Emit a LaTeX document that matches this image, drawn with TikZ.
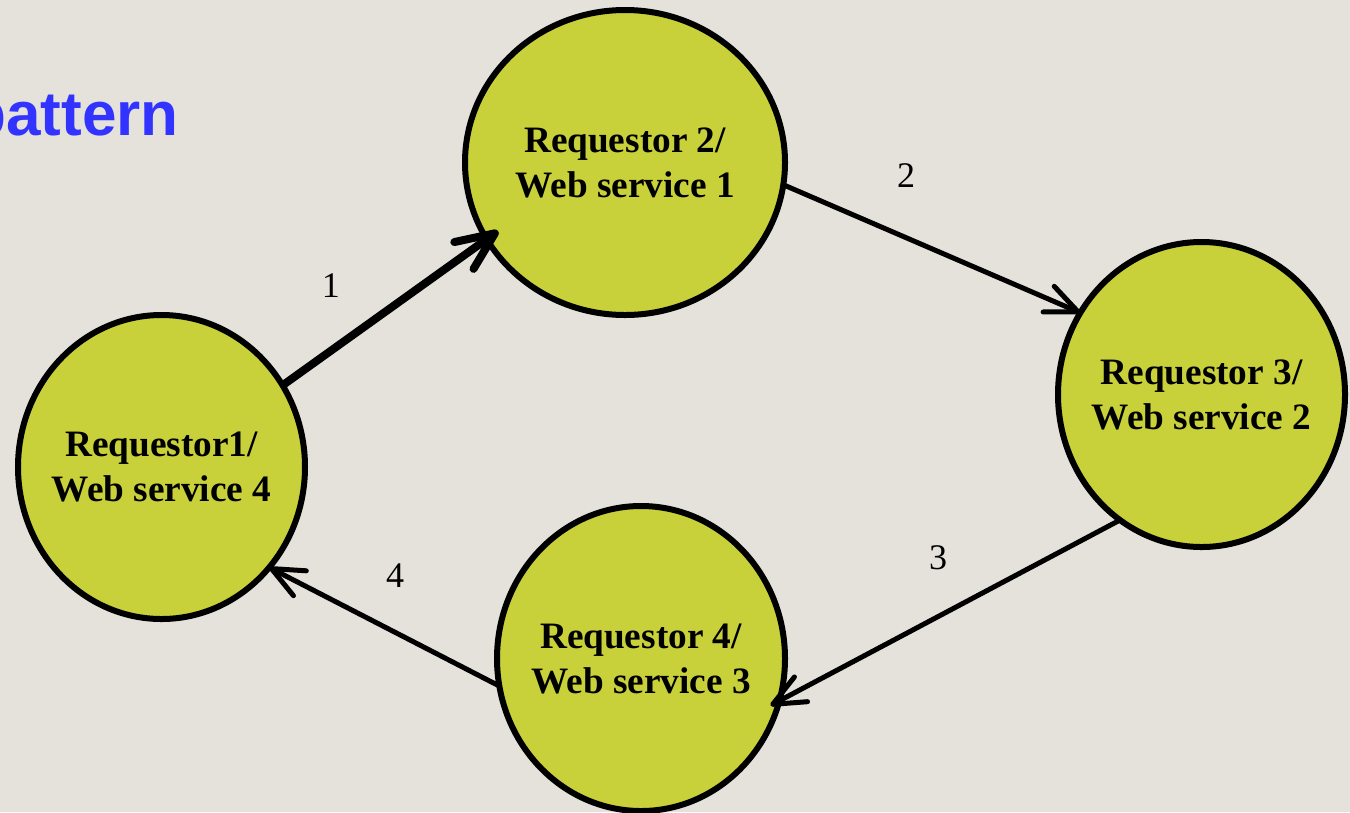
\documentclass[tikz,border=0pt]{standalone}
\usepackage{fontspec}
\setmainfont{Liberation Serif}
\newfontfamily\headfont{Liberation Sans}
\usepackage{tikz}
\usetikzlibrary{arrows.meta, shapes.geometric, positioning}

\definecolor{slidebg}{RGB}{229,226,219}
\definecolor{partyfill}{RGB}{200,208,58}
\definecolor{headblue}{RGB}{51,51,255}

\begin{document}
\begin{tikzpicture}[
  scale=1.0,
  >={Straight Barb[length=0.64cm, width=0.56cm, round]},
  party/.style={ellipse, draw, line width=0.12cm, fill=partyfill, inner sep=0pt, outer sep=0pt},
  who/.style={align=center, font=\fontsize{21.2}{25.6}\selectfont\bfseries},
  flow/.style={->, line width=0.1cm},
  lab/.style={font=\fontsize{20.5}{25.6}\selectfont},
]

% slide background (fixes the page size)
\fill[slidebg] (0,0) rectangle (27,-16.24);
\useasboundingbox (0,0) rectangle (27,-16.24);

% title, cut off at the left edge of the slide
\node[anchor=base west, inner sep=0pt, text=headblue, font=\headfont\fontsize{35.3}{42}\selectfont\bfseries]
  (title) at (-0.64,-2.7) {pattern};

% --- the four requestor / web service parties ---
\node[party, minimum width=5.74cm, minimum height=6.08cm] (r1) at ( 3.23, -9.34) {};
\node[party, minimum width=6.40cm, minimum height=6.10cm] (r2) at (12.50, -3.25) {};
\node[party, minimum width=5.74cm, minimum height=6.10cm] (r3) at (24.03, -7.89) {};
\node[party, minimum width=5.76cm, minimum height=6.10cm] (r4) at (12.82,-13.17) {};

\node[who] (r1txt) at (r1) {Requestor1/\\Web service 4};
\node[who] (r2txt) at (r2) {Requestor 2/\\Web service 1};
\node[who] (r3txt) at (r3) {Requestor 3/\\Web service 2};
\node[who] (r4txt) at (r4) {Requestor 4/\\Web service 3};

% --- message flow round the ring ---
\draw[flow, line width=0.16cm, >={Straight Barb[length=0.76cm, width=0.66cm, round]}, shorten >=-0.28cm]
  (r1.34) -- (r2.209.4);
\draw[flow] (r2.-8) -- (r3.146.5);
\draw[flow, shorten >=-0.2cm] (r3.237) -- (r4.-17);
\draw[flow] (r4.191) -- (r1.-43.5);

% step numbers
\node[lab] (n1) at ( 6.62, -5.72) {1};
\node[lab] (n2) at (18.12, -3.52) {2};
\node[lab] (n3) at (18.76,-11.16) {3};
\node[lab] (n4) at ( 7.90,-11.52) {4};

\end{tikzpicture}
\end{document}
